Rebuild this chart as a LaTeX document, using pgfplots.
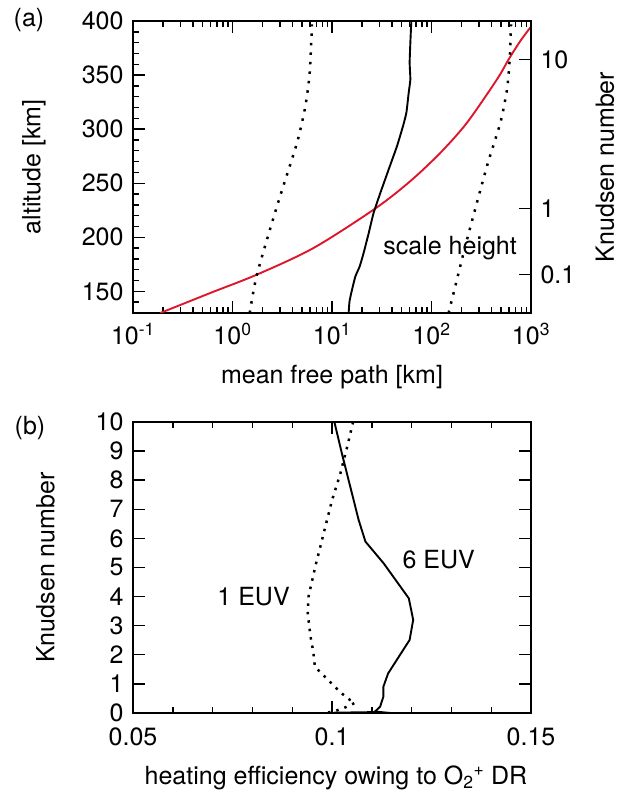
\documentclass[border=0pt]{standalone}
\usepackage{fontspec}
\setmainfont{TeX Gyre Heros}
\usepackage{pgfplots}
\pgfplotsset{compat=1.18}
\definecolor{curvered}{RGB}{222,22,44}

\newcommand{\figfont}{\fontsize{25bp}{29bp}\selectfont}

\pgfplotsset{
  panel/.style={
    scale only axis, width=398bp,
    axis line style={line width=1.8bp},
    tick style={line width=1.4bp, black},
    major tick length=12bp, minor tick length=6bp,
    tick align=inside,
    ticklabel style={font=\figfont},
    label style={font=\figfont},
    /pgf/number format/assume math mode=true,
  },
  dots/.style={black, line width=2.5bp, line cap=butt, dash pattern=on 2.5bp off 7bp},
  solid curve/.style={black, line width=1.9bp},
}

\begin{document}
\begin{tikzpicture}[font=\figfont]
\useasboundingbox (0,0) rectangle (620bp,792bp);

% (a) mean free path vs altitude
\begin{axis}[panel, at={(133bp,479bp)}, anchor=south west, height=292bp,
  xmode=log, xmin=0.1, xmax=1000, ymin=130, ymax=400,
  xtick={0.1,1,10,100,1000},
  xticklabels={10\textsuperscript{-1},10\textsuperscript{0},10\textsuperscript{1},10\textsuperscript{2},10\textsuperscript{3}},
  minor xtick={0.2,0.3,0.4,0.5,0.6,0.7,0.8,0.9,2,3,4,5,6,7,8,9,20,30,40,50,60,70,80,90,200,300,400,500,600,700,800,900},
  ytick={150,200,...,400}, minor ytick={140,150,...,400},
  ytick pos=left,
  xticklabel style={yshift=-7bp},
  yticklabel style={xshift=-6bp},
  xlabel={mean free path [km]}, ylabel={altitude [km]},
  xlabel style={at={(axis description cs:0.5,-0.243)}, anchor=base},
  ylabel style={at={(axis description cs:-0.249,0.5)}, anchor=center},
]
\addplot[curvered, line width=1.9bp, smooth, tension=0.5] coordinates {
  (0.188,130) (0.598,148.5) (1.76,165.5) (6.55,190.2) (27.2,226.6)
  (61.2,251.9) (122.7,278.1) (227,305.9) (455,346) (596,364.5)
  (781,381.5) (1000,394.8)
};
\addplot[solid curve, smooth, tension=0.3] coordinates {
  (14.7,130) (15.0,140.8) (15.9,151.6) (17.2,164) (19.0,173.2) (20.8,185.6)
  (23.4,204) (26.2,222.6) (30.6,241) (37.1,262.7) (45.0,284.3) (51.7,302.8)
  (55.9,315.2) (59.0,333.7) (61.3,346) (60.3,361.4) (61.3,380) (62.7,400)
};
\addplot[dots, smooth, tension=0.4] coordinates {
  (1.49,130) (1.76,165.5) (2.80,228.8) (4.45,287.4) (5.40,321.3) (5.97,352.2) (6.29,396.9)
};
\addplot[dots, smooth, tension=0.4] coordinates {
  (148.6,130) (227.5,197.9) (361,265.8) (492,305.9) (574,336.7) (611,364.5) (630,396.9)
};
\node at (axis cs:154,190.2) {scale height};
\end{axis}

% Knudsen number scale on the right of (a)
\begin{axis}[panel, at={(133bp,479bp)}, anchor=south west, height=292bp,
  xmin=0, xmax=1, ymin=130, ymax=400,
  hide x axis, axis y line*=right,
  ytick={165.7,226.8,364.5}, yticklabels={0.1,1,10},
  yticklabel style={xshift=6bp},
  ylabel={Knudsen number},
  ylabel style={at={(axis description cs:1.186,0.5)}, anchor=center},
]
\end{axis}

% (b) heating efficiency vs Knudsen number
\begin{axis}[panel, at={(133bp,79bp)}, anchor=south west, height=291bp,
  xmin=0.05, xmax=0.15, ymin=0, ymax=10,
  xtick={0.05,0.1,0.15}, xticklabels={0.05,0.1,0.15},
  minor xtick={0.06,0.07,0.08,0.09,0.11,0.12,0.13,0.14},
  ytick={0,1,...,10},
  xticklabel style={yshift=-11bp},
  yticklabel style={xshift=-6bp},
  xlabel={heating efficiency owing to O\textsubscript{2}\textsuperscript{+} DR},
  ylabel={Knudsen number},
  xlabel style={at={(axis description cs:0.51,-0.247)}, anchor=base},
  ylabel style={at={(axis description cs:-0.22,0.5)}, anchor=center},
]
\addplot[solid curve] coordinates {
  (0.1006,10) (0.1025,8.91) (0.1046,7.77) (0.1067,6.63) (0.1084,5.89)
  (0.1130,5.14) (0.1193,3.94) (0.1204,3.20) (0.1195,2.51) (0.1171,2.0)
  (0.1141,1.36) (0.1129,0.90) (0.1129,0.56) (0.1121,0.22) (0.1108,0.05)
  (0.1147,0.0) (0.1100,0.03) (0.1005,0.01)
};
\addplot[dots, dash pattern=on 2.5bp off 6bp] coordinates {
  (0.1053,10) (0.1038,9.14) (0.1021,8.23) (0.1000,7.31) (0.0979,6.17)
  (0.0958,5.03) (0.0941,4.0) (0.0939,3.43) (0.0946,2.63) (0.0953,2.1)
  (0.0957,1.59) (0.0974,1.36) (0.1003,0.96) (0.1024,0.68) (0.1045,0.45)
  (0.1058,0.35) (0.1028,0.16) (0.1008,0.07) (0.0987,0.01)
};
\node at (axis cs:0.1268,5.26) {6 EUV};
\node at (axis cs:0.0803,4.0) {1 EUV};
\end{axis}

\node at (29bp,772bp) {(a)};
\node at (30bp,364bp) {(b)};
\end{tikzpicture}
\end{document}
